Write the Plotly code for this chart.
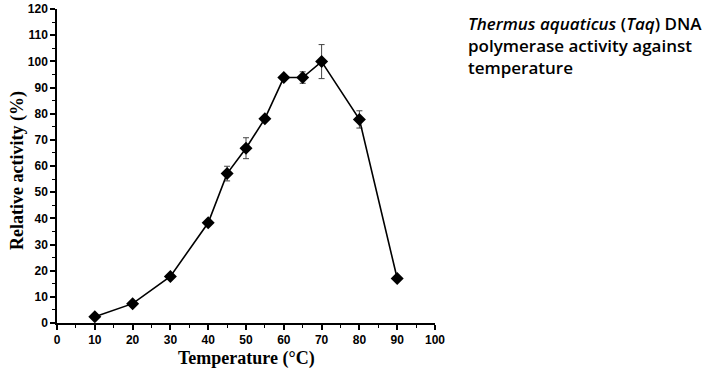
import plotly.graph_objects as go

temperature = [10, 20, 30, 40, 45, 50, 55, 60, 65, 70, 80, 90]
activity = [2.4, 7.4, 17.8, 38.3, 57.1, 66.8, 78.1, 93.8, 93.8, 99.9, 77.8, 17.0]
error = [0, 0, 0, 0, 2.8, 4.0, 0, 0, 2.2, 6.5, 3.3, 0]

x_ticks = list(range(0, 101, 10))
y_ticks = list(range(0, 121, 10))

fig = go.Figure()
fig.add_trace(go.Scatter(
    x=temperature, y=activity, mode="lines+markers",
    line=dict(color="black", width=1.6),
    marker=dict(symbol="diamond", size=10, color="black"),
    error_y=dict(type="data", array=error, visible=True, color="#444444", thickness=1, width=3),
    showlegend=False, cliponaxis=False,
))

axis_common = dict(
    showline=True, linecolor="black", linewidth=1.5, showgrid=False, zeroline=False,
    ticks="outside", ticklen=5, tickwidth=1.5, tickcolor="black", automargin=False,
    tickfont=dict(family="Liberation Sans, Arial", size=12, color="black", weight="bold"),
    minor=dict(ticks="outside", ticklen=3, tickwidth=1.2, tickcolor="black", dtick=5),
)

fig.update_xaxes(range=[0, 100], tickvals=x_ticks, ticktext=[str(v) for v in x_ticks], **axis_common)
fig.update_yaxes(range=[0, 120], tickvals=y_ticks, ticktext=[str(v) for v in y_ticks], **axis_common)

title_font = dict(family="Liberation Serif, Times New Roman", size=18, color="black")
fig.add_annotation(xref="paper", yref="paper", x=0.5, y=0, yshift=-35, xanchor="center", yanchor="middle",
                   text="<b>Temperature (°C)</b>", showarrow=False, font=title_font)
fig.add_annotation(xref="paper", yref="paper", x=0, y=0.5, xshift=-40, yshift=-5, xanchor="center", yanchor="middle",
                   text="<b>Relative activity (%)</b>", textangle=-90, showarrow=False, font=title_font)

fig.add_annotation(
    xref="paper", yref="paper", x=1.0, y=1.0, xanchor="left", yanchor="top", xshift=31, yshift=-1,
    text="<i>Thermus aquaticus</i> (<i>Taq</i>) DNA<br>polymerase activity against<br>temperature",
    showarrow=False, align="left",
    font=dict(family="Open Sans, Liberation Sans", size=17, color="black", weight=600),
)

fig.update_layout(
    width=707, height=379,
    margin=dict(l=57, r=272, t=9, b=56),
    plot_bgcolor="white", paper_bgcolor="white",
)

# remove the browser's default 8px body margin so the figure fills the window exactly
fig.write_html("out.html", config={"displayModeBar": False},
               post_script="document.body.style.margin='0px';")
